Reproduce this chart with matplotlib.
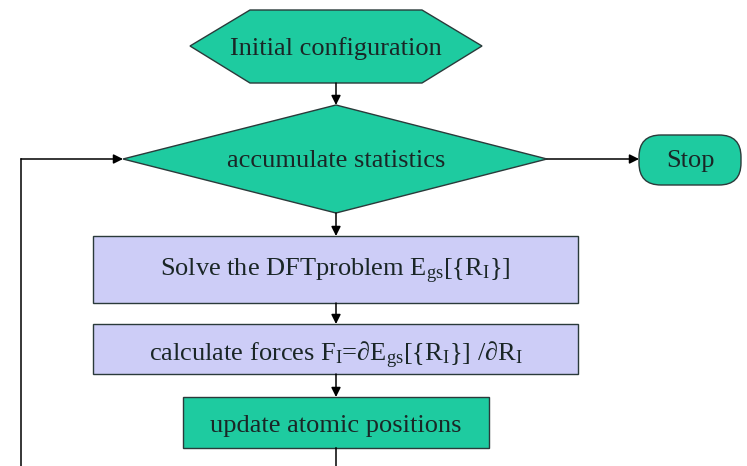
import matplotlib.pyplot as plt
from matplotlib.patches import Polygon, Rectangle, FancyBboxPatch

plt.rcParams['font.family'] = ['Liberation Serif', 'DejaVu Serif']
plt.rcParams['mathtext.fontset'] = 'custom'
plt.rcParams['mathtext.rm'] = 'Liberation Serif'
plt.rcParams['mathtext.it'] = 'Liberation Serif:italic'

# node labels
start_label = "Initial configuration"
decision_label = "accumulate statistics"
stop_label = "Stop"
step_labels = [
    r"Solve the DFTproblem E$_{\mathrm{gs}}$[{R$_{\mathrm{I}}$}]",
    r"calculate forces F$_{\mathrm{I}}$=∂E$_{\mathrm{gs}}$[{R$_{\mathrm{I}}$}] /∂R$_{\mathrm{I}}$",
    "update atomic positions",
]

TEAL = "#1ecba0"
LAV = "#cdcdf7"
EDGE = "#2a3a3a"
TXT = "#1a2626"
FS = 19

fig = plt.figure(figsize=(7.47, 4.66), dpi=100)
ax = fig.add_axes([0, 0, 1, 1])
ax.set_xlim(0, 747)
ax.set_ylim(466, 0)
ax.axis("off")

cx = 336


def arrow(x0, y0, x1, y1):
    ax.annotate("", xy=(x1, y1), xytext=(x0, y0),
                arrowprops=dict(arrowstyle="-|>", color="black", lw=1.1,
                                mutation_scale=14, shrinkA=0, shrinkB=0))


# start hexagon
hexa = [(190, 46), (250, 10), (422, 10), (482, 46), (422, 83), (250, 83)]
ax.add_patch(Polygon(hexa, closed=True, fc=TEAL, ec=EDGE, lw=1))
ax.text(cx, 55, start_label, ha="center", va="baseline", fontsize=FS, color=TXT)

# decision diamond
diam = [(123, 159), (cx, 105), (547, 159), (cx, 213)]
ax.add_patch(Polygon(diam, closed=True, fc=TEAL, ec=EDGE, lw=1))
ax.text(cx, 167, decision_label, ha="center", va="baseline", fontsize=FS, color=TXT)

# stop
ax.add_patch(FancyBboxPatch((639, 135), 102, 50,
                            boxstyle="round,pad=0,rounding_size=22",
                            fc=TEAL, ec=EDGE, lw=1))
ax.text(690, 167, stop_label, ha="center", va="baseline", fontsize=FS, color=TXT)

# process boxes
boxes = [(93, 236, 485, 67, LAV), (93, 324, 485, 50, LAV), (183, 397, 306, 51, TEAL)]
ys = [276, 361, 432]
for (x, y, w, h, c), lab, ty in zip(boxes, step_labels, ys):
    ax.add_patch(Rectangle((x, y), w, h, fc=c, ec=EDGE, lw=1))
    ax.text(x + w / 2, ty, lab, ha="center", va="baseline", fontsize=FS, color=TXT)

# connectors
arrow(cx, 83, cx, 105)
arrow(cx, 213, cx, 236)
arrow(cx, 303, cx, 324)
arrow(cx, 374, cx, 397)
arrow(547, 159, 639, 159)
ax.plot([cx, cx], [448, 470], color="black", lw=1.1)
ax.plot([21, 21], [470, 159], color="black", lw=1.1)
arrow(21, 159, 123, 159)

fig.savefig("out.png", dpi=100)
